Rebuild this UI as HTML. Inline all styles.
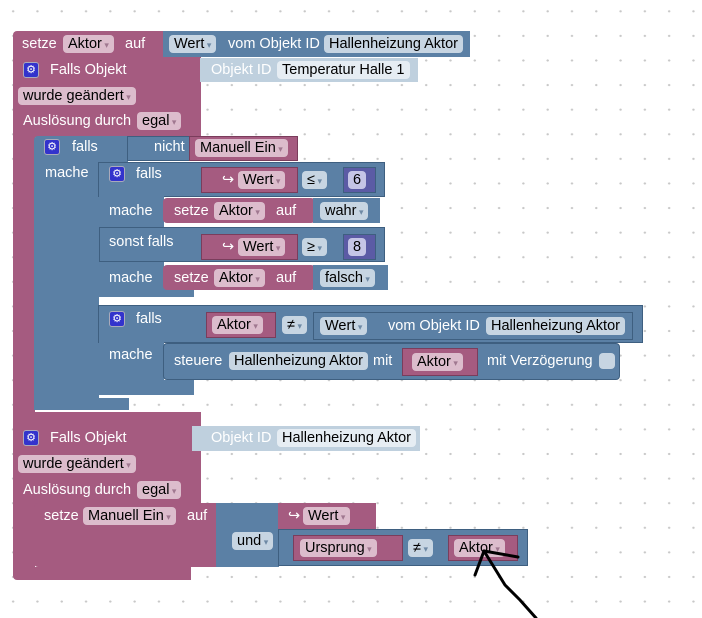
<!DOCTYPE html>
<html><head><meta charset="utf-8"><style>
body{margin:0;width:702px;height:618px;overflow:hidden;background:#fff;
background-image:radial-gradient(circle,#c8c8c8 1px,transparent 1.3px);background-size:24.3px 24.6px;background-position:1px -1px;
font-family:"Liberation Sans",sans-serif;font-size:14.5px;position:relative}
div{position:absolute;box-sizing:border-box}
.m{background:#a55b80}
.bl{background:#5b80a5}
.lb{background:#bfd0de}
.pu{background:#5b5ba5}
.bd{border:1px solid #7a3d5c}
.bb{border:1px solid #3e5f80}
.t{color:#fff;white-space:nowrap;line-height:18px}
.f{border-radius:4px;color:#000;white-space:nowrap;line-height:18px;height:18px;padding:0 5px}
.fp{background:#dcbccc}
.fb{background:#c7d5e2}
.fl{background:#e6edf3}
.fv{background:#c5c5e6}
.a::after{content:" ▾";font-size:9px;color:#a07890;white-space:pre}
.ab::after{content:" ▾";font-size:9px;color:#6f8aa5;white-space:pre}
.g{width:16px;height:16px;background:#3333cc;border:1px solid #aab;border-radius:3px;color:#fff;font-size:11px;line-height:14px;text-align:center}
</style></head><body>

<!-- top setze -->
<div class="m" style="left:13px;top:31px;width:152px;height:26px;border-radius:4px 0 0 0"></div>
<div class="t" style="left:22px;top:35px">setze</div>
<div class="f fp a" style="left:63px;top:35px">Aktor</div>
<div class="t" style="left:125px;top:35px">auf</div>
<div class="bl" style="left:163px;top:31px;width:307px;height:26px"></div>
<div class="f fb ab" style="left:169px;top:35px">Wert</div>
<div class="t" style="left:228px;top:35px">vom Objekt ID</div>
<div class="f fb" style="left:324px;top:35px">Hallenheizung Aktor</div>

<!-- event 1 -->
<div class="m" style="left:13px;top:57px;width:188px;height:80px"></div>
<div class="m" style="left:13px;top:135px;width:22px;height:280px"></div>
<div class="m" style="left:13px;top:412px;width:188px;height:14px"></div>
<div class="g" style="left:23px;top:62px">⚙</div>
<div class="t" style="left:50px;top:61px">Falls Objekt</div>
<div class="lb" style="left:200px;top:58px;width:218px;height:24px"></div>
<div class="t" style="left:211px;top:61px">Objekt ID</div>
<div class="f fl" style="left:277px;top:61px">Temperatur Halle 1</div>
<div class="f fp a" style="left:18px;top:87px">wurde geändert</div>
<div class="t" style="left:23px;top:112px">Auslösung durch</div>
<div class="f fp a" style="left:137px;top:112px">egal</div>

<!-- outer if -->
<div class="bl" style="left:34px;top:136px;width:94px;height:26px;border-radius:4px 0 0 0"></div>
<div class="bl" style="left:34px;top:160px;width:65px;height:242px"></div>
<div class="bl" style="left:34px;top:398px;width:95px;height:12px"></div>
<div class="g" style="left:44px;top:139px">⚙</div>
<div class="t" style="left:72px;top:138px">falls</div>
<div class="t" style="left:45px;top:164px">mache</div>
<div class="bl bb" style="left:127px;top:136px;width:64px;height:25px"></div>
<div class="t" style="left:154px;top:138px">nicht</div>
<div class="m bd" style="left:189px;top:136px;width:109px;height:25px"></div>
<div class="f fp a" style="left:195px;top:139px">Manuell Ein</div>

<!-- inner if 1 -->
<div class="bl bb" style="left:98px;top:162px;width:287px;height:35px"></div>
<div class="bl" style="left:99px;top:196px;width:65px;height:96px"></div>
<div class="bl bb" style="left:99px;top:227px;width:286px;height:35px"></div>
<div class="bl" style="left:99px;top:288px;width:95px;height:9px"></div>
<div class="g" style="left:109px;top:166px">⚙</div>
<div class="t" style="left:136px;top:165px">falls</div>
<div class="t" style="left:109px;top:202px">mache</div>
<div class="t" style="left:109px;top:233px">sonst falls</div>
<div class="t" style="left:109px;top:269px">mache</div>
<div class="m bd" style="left:201px;top:167px;width:97px;height:26px"></div>
<div class="t" style="left:222px;top:171px">↪</div>
<div class="f fp a" style="left:238px;top:171px">Wert</div>
<div class="f fb ab" style="left:302px;top:171px">≤</div>
<div class="pu bb" style="left:343px;top:167px;width:33px;height:26px"></div>
<div class="f fv" style="left:348px;top:171px">6</div>
<div class="m" style="left:163px;top:198px;width:152px;height:25px;border-radius:4px"></div>
<div class="t" style="left:174px;top:202px">setze</div>
<div class="f fp a" style="left:214px;top:202px">Aktor</div>
<div class="t" style="left:276px;top:202px">auf</div>
<div class="bl" style="left:313px;top:198px;width:67px;height:25px"></div>
<div class="f fb ab" style="left:320px;top:202px">wahr</div>
<div class="m bd" style="left:201px;top:234px;width:97px;height:26px"></div>
<div class="t" style="left:222px;top:238px">↪</div>
<div class="f fp a" style="left:238px;top:238px">Wert</div>
<div class="f fb ab" style="left:302px;top:238px">≥</div>
<div class="pu bb" style="left:343px;top:234px;width:33px;height:26px"></div>
<div class="f fv" style="left:348px;top:238px">8</div>
<div class="m" style="left:163px;top:265px;width:152px;height:25px;border-radius:4px"></div>
<div class="t" style="left:174px;top:269px">setze</div>
<div class="f fp a" style="left:214px;top:269px">Aktor</div>
<div class="t" style="left:276px;top:269px">auf</div>
<div class="bl" style="left:313px;top:265px;width:75px;height:25px"></div>
<div class="f fb ab" style="left:320px;top:269px">falsch</div>

<!-- inner if 2 -->
<div class="bl bb" style="left:98px;top:305px;width:545px;height:38px"></div>
<div class="bl" style="left:99px;top:342px;width:65px;height:40px"></div>
<div class="g" style="left:109px;top:311px">⚙</div>
<div class="t" style="left:136px;top:310px">falls</div>
<div class="t" style="left:109px;top:346px">mache</div>
<div class="m bd" style="left:206px;top:312px;width:70px;height:26px"></div>
<div class="f fp a" style="left:212px;top:316px">Aktor</div>
<div class="f fb ab" style="left:282px;top:316px">≠</div>
<div class="bl bb" style="left:313px;top:312px;width:320px;height:28px"></div>
<div class="f fb ab" style="left:320px;top:317px">Wert</div>
<div class="t" style="left:388px;top:317px">vom Objekt ID</div>
<div class="f fb" style="left:486px;top:317px">Hallenheizung Aktor</div>
<div class="bl bb" style="left:163px;top:343px;width:457px;height:37px;border-radius:4px"></div>
<div class="t" style="left:174px;top:352px">steuere</div>
<div class="f fb" style="left:229px;top:352px">Hallenheizung Aktor</div>
<div class="t" style="left:373px;top:352px">mit</div>
<div class="m bd" style="left:402px;top:348px;width:76px;height:28px"></div>
<div class="f fp a" style="left:412px;top:353px">Aktor</div>
<div class="t" style="left:487px;top:352px">mit Verzögerung</div>
<div style="left:599px;top:353px;width:16px;height:16px;background:#c7d5e2;border-radius:4px"></div>
<div class="bl" style="left:99px;top:380px;width:95px;height:15px"></div>

<!-- event 2 -->
<div class="m" style="left:13px;top:425px;width:188px;height:80px"></div>
<div class="m" style="left:13px;top:500px;width:22px;height:75px"></div>
<div class="m" style="left:13px;top:567px;width:178px;height:13px;border-radius:0 0 0 4px"></div>
<div class="g" style="left:23px;top:430px">⚙</div>
<div class="t" style="left:50px;top:429px">Falls Objekt</div>
<div class="lb" style="left:192px;top:426px;width:228px;height:25px"></div>
<div class="t" style="left:211px;top:429px">Objekt ID</div>
<div class="f fl" style="left:277px;top:429px">Hallenheizung Aktor</div>
<div class="f fp a" style="left:18px;top:455px">wurde geändert</div>
<div class="t" style="left:23px;top:481px">Auslösung durch</div>
<div class="f fp a" style="left:137px;top:481px">egal</div>
<div class="m" style="left:34px;top:503px;width:183px;height:64px;border-radius:4px 0 0 4px"></div>
<div class="t" style="left:44px;top:507px">setze</div>
<div class="f fp a" style="left:83px;top:507px">Manuell Ein</div>
<div class="t" style="left:187px;top:507px">auf</div>
<div class="bl" style="left:216px;top:503px;width:63px;height:64px"></div>
<div class="f fb ab" style="left:232px;top:532px">und</div>
<div class="m" style="left:278px;top:503px;width:98px;height:26px"></div>
<div class="t" style="left:288px;top:507px">↪</div>
<div class="f fp a" style="left:303px;top:507px">Wert</div>
<div class="bl bb" style="left:278px;top:529px;width:250px;height:37px"></div>
<div class="m bd" style="left:293px;top:535px;width:110px;height:26px"></div>
<div class="f fp a" style="left:300px;top:539px">Ursprung</div>
<div class="f fb ab" style="left:408px;top:539px">≠</div>
<div class="m bd" style="left:448px;top:535px;width:70px;height:26px"></div>
<div class="f fp a" style="left:454px;top:539px">Aktor</div>

<svg style="position:absolute;left:0;top:0" width="702" height="618">
<g stroke="#000" stroke-width="3" fill="none" stroke-linecap="round">
<path d="M484 551 L518 557"/><path d="M484 551 L475 575"/><path d="M484 551 L505 585 L520 600 L536 618"/>
</g></svg>
</body></html>
